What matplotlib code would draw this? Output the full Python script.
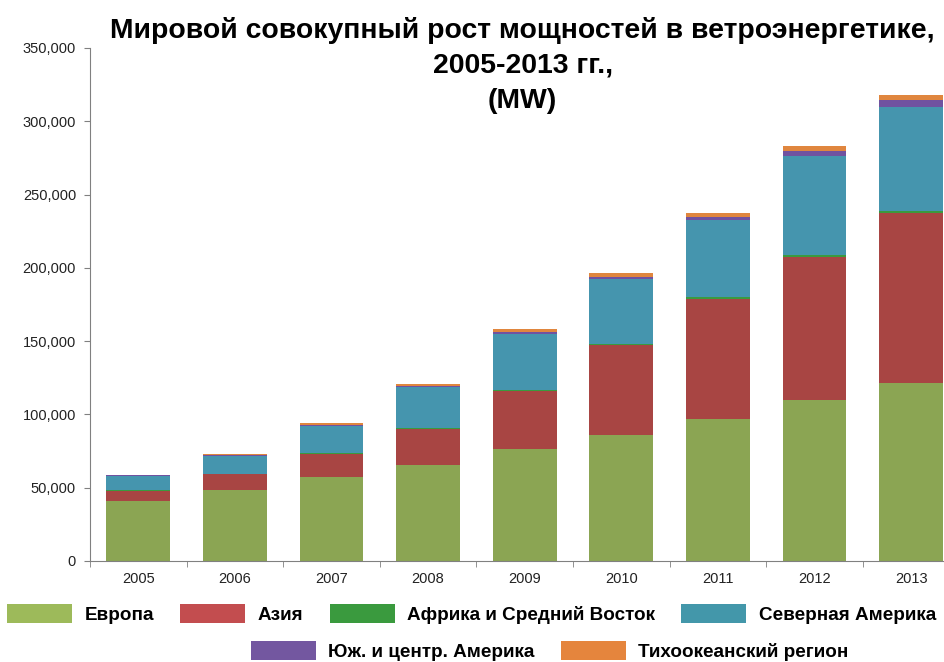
import numpy as np
import matplotlib
matplotlib.use("Agg")
import matplotlib.pyplot as plt
from matplotlib.patches import Patch
from matplotlib.ticker import FuncFormatter

# Cumulative installed wind capacity, MW
years = ["2005", "2006", "2007", "2008", "2009", "2010", "2011", "2012", "2013"]
europe = [40898, 48563, 57136, 65741, 76152, 86075, 96607, 109817, 121474]
asia = [7022, 10667, 16000, 24439, 39639, 61087, 82398, 97715, 115939]
africa_me = [343, 368, 538, 669, 865, 1079, 1093, 1135, 1255]
north_america = [9871, 11885, 18664, 27605, 38478, 44189, 52184, 67748, 70811]
latin_america = [210, 507, 539, 667, 1072, 1478, 2330, 3505, 4709]
pacific = [579, 817, 1154, 1739, 2221, 2516, 2858, 3219, 3721]

series = [
    ("Европа", europe, "#8ba553", "#9dba5a"),
    ("Азия", asia, "#a84543", "#c34d4f"),
    ("Африка и Средний Восток", africa_me, "#3a9a3e", "#3a9a3e"),
    ("Северная Америка", north_america, "#4595ae", "#4397aa"),
    ("Юж. и центр. Америка", latin_america, "#7052a0", "#7357a0"),
    ("Тихоокеанский регион", pacific, "#e0863e", "#e5853d"),
]

plt.rcParams["font.family"] = ["Liberation Sans", "DejaVu Sans"]

fig = plt.figure(figsize=(9.45, 6.62), dpi=100)
ax = fig.add_axes([0.0952, 0.1526, 0.92, 0.775])

x = np.arange(len(years))
bottom = np.zeros(len(years))
for name, vals, color, _ in series:
    vals = np.array(vals, dtype=float)
    ax.bar(x, vals, width=0.66, bottom=bottom, color=color, linewidth=0)
    bottom += vals

ax.set_xlim(-0.5, len(years) - 0.5)
ax.set_ylim(0, 350000)
ax.set_yticks(np.arange(0, 350001, 50000))
ax.yaxis.set_major_formatter(FuncFormatter(lambda v, p: f"{v:,.0f}"))

ax.set_xticks(x)
ax.set_xticklabels(years)
ax.set_xticks(np.arange(-0.5, len(years), 1), minor=True)
ax.tick_params(axis="x", which="major", length=0, pad=8, labelsize=10.5, labelcolor="#222222")
ax.tick_params(axis="x", which="minor", length=4, color="#808080")
ax.tick_params(axis="y", length=4, color="#808080", labelsize=10.5, labelcolor="#222222", pad=6)

for s in ["top", "right"]:
    ax.spines[s].set_visible(False)
for s in ["left", "bottom"]:
    ax.spines[s].set_color("#808080")

fig.text(0.553, 0.975, "Мировой совокупный рост мощностей в ветроэнергетике,\n2005-2013 гг.,\n(MW)",
         ha="center", va="top", fontsize=20.4, fontweight="bold", linespacing=1.46)

handles = [Patch(facecolor=lc, edgecolor="none") for _, _, _, lc in series]
labels = [name for name, _, _, _ in series]
leg_kw = dict(frameon=False, loc="center", handlelength=3.44, handleheight=1.16,
              handletextpad=0.65, columnspacing=1.4,
              prop={"weight": "bold", "size": 13.6})
fig.legend(handles[:4], labels[:4], ncol=4, bbox_to_anchor=(0.499, 0.0725), **leg_kw)
fig.legend(handles[4:], labels[4:], ncol=2, bbox_to_anchor=(0.582, 0.0166), **leg_kw)

fig.savefig("out.png", dpi=100)
